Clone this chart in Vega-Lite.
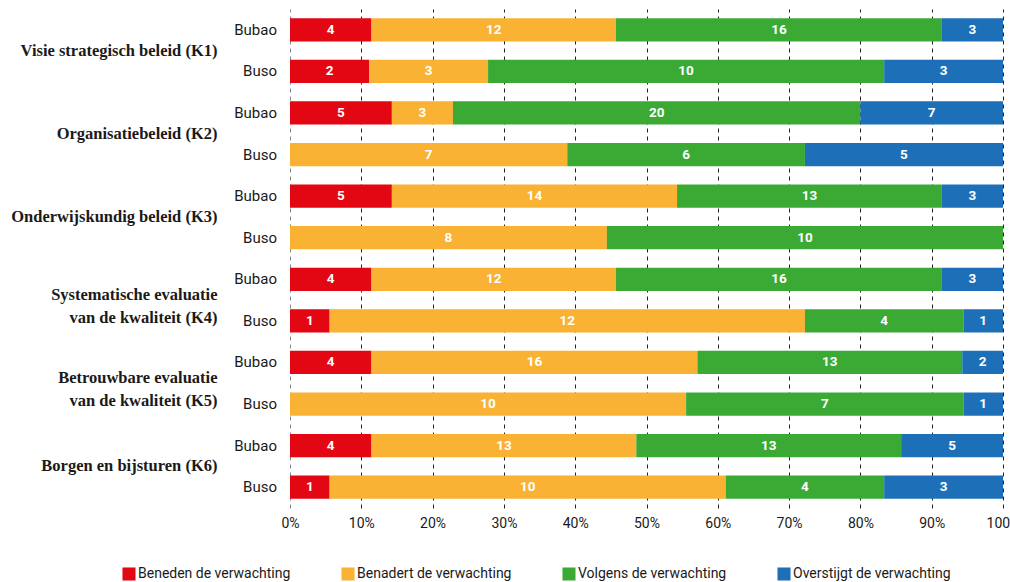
{
  "$schema": "https://vega.github.io/schema/vega-lite/v6.json",
  "autosize": {"type": "none"},
  "width": 713,
  "height": 499,
  "padding": {"left": 290, "top": 9, "right": 7, "bottom": 74},
  "background": "white",
  "config": {
    "view": {"stroke": null},
    "font": "Roboto"
  },
  "datasets": {
    "counts": [
      {"cat": "Visie strategisch beleid (K1)", "group": "Bubao", "level": "Beneden de verwachting", "k": 1, "n": 4},
      {"cat": "Visie strategisch beleid (K1)", "group": "Bubao", "level": "Benadert de verwachting", "k": 2, "n": 12},
      {"cat": "Visie strategisch beleid (K1)", "group": "Bubao", "level": "Volgens de verwachting", "k": 3, "n": 16},
      {"cat": "Visie strategisch beleid (K1)", "group": "Bubao", "level": "Overstijgt de verwachting", "k": 4, "n": 3},
      {"cat": "Visie strategisch beleid (K1)", "group": "Buso", "level": "Beneden de verwachting", "k": 1, "n": 2},
      {"cat": "Visie strategisch beleid (K1)", "group": "Buso", "level": "Benadert de verwachting", "k": 2, "n": 3},
      {"cat": "Visie strategisch beleid (K1)", "group": "Buso", "level": "Volgens de verwachting", "k": 3, "n": 10},
      {"cat": "Visie strategisch beleid (K1)", "group": "Buso", "level": "Overstijgt de verwachting", "k": 4, "n": 3},
      {"cat": "Organisatiebeleid (K2)", "group": "Bubao", "level": "Beneden de verwachting", "k": 1, "n": 5},
      {"cat": "Organisatiebeleid (K2)", "group": "Bubao", "level": "Benadert de verwachting", "k": 2, "n": 3},
      {"cat": "Organisatiebeleid (K2)", "group": "Bubao", "level": "Volgens de verwachting", "k": 3, "n": 20},
      {"cat": "Organisatiebeleid (K2)", "group": "Bubao", "level": "Overstijgt de verwachting", "k": 4, "n": 7},
      {"cat": "Organisatiebeleid (K2)", "group": "Buso", "level": "Benadert de verwachting", "k": 2, "n": 7},
      {"cat": "Organisatiebeleid (K2)", "group": "Buso", "level": "Volgens de verwachting", "k": 3, "n": 6},
      {"cat": "Organisatiebeleid (K2)", "group": "Buso", "level": "Overstijgt de verwachting", "k": 4, "n": 5},
      {"cat": "Onderwijskundig beleid (K3)", "group": "Bubao", "level": "Beneden de verwachting", "k": 1, "n": 5},
      {"cat": "Onderwijskundig beleid (K3)", "group": "Bubao", "level": "Benadert de verwachting", "k": 2, "n": 14},
      {"cat": "Onderwijskundig beleid (K3)", "group": "Bubao", "level": "Volgens de verwachting", "k": 3, "n": 13},
      {"cat": "Onderwijskundig beleid (K3)", "group": "Bubao", "level": "Overstijgt de verwachting", "k": 4, "n": 3},
      {"cat": "Onderwijskundig beleid (K3)", "group": "Buso", "level": "Benadert de verwachting", "k": 2, "n": 8},
      {"cat": "Onderwijskundig beleid (K3)", "group": "Buso", "level": "Volgens de verwachting", "k": 3, "n": 10},
      {"cat": "Systematische evaluatie|van de kwaliteit (K4)", "group": "Bubao", "level": "Beneden de verwachting", "k": 1, "n": 4},
      {"cat": "Systematische evaluatie|van de kwaliteit (K4)", "group": "Bubao", "level": "Benadert de verwachting", "k": 2, "n": 12},
      {"cat": "Systematische evaluatie|van de kwaliteit (K4)", "group": "Bubao", "level": "Volgens de verwachting", "k": 3, "n": 16},
      {"cat": "Systematische evaluatie|van de kwaliteit (K4)", "group": "Bubao", "level": "Overstijgt de verwachting", "k": 4, "n": 3},
      {"cat": "Systematische evaluatie|van de kwaliteit (K4)", "group": "Buso", "level": "Beneden de verwachting", "k": 1, "n": 1},
      {"cat": "Systematische evaluatie|van de kwaliteit (K4)", "group": "Buso", "level": "Benadert de verwachting", "k": 2, "n": 12},
      {"cat": "Systematische evaluatie|van de kwaliteit (K4)", "group": "Buso", "level": "Volgens de verwachting", "k": 3, "n": 4},
      {"cat": "Systematische evaluatie|van de kwaliteit (K4)", "group": "Buso", "level": "Overstijgt de verwachting", "k": 4, "n": 1},
      {"cat": "Betrouwbare evaluatie|van de kwaliteit (K5)", "group": "Bubao", "level": "Beneden de verwachting", "k": 1, "n": 4},
      {"cat": "Betrouwbare evaluatie|van de kwaliteit (K5)", "group": "Bubao", "level": "Benadert de verwachting", "k": 2, "n": 16},
      {"cat": "Betrouwbare evaluatie|van de kwaliteit (K5)", "group": "Bubao", "level": "Volgens de verwachting", "k": 3, "n": 13},
      {"cat": "Betrouwbare evaluatie|van de kwaliteit (K5)", "group": "Bubao", "level": "Overstijgt de verwachting", "k": 4, "n": 2},
      {"cat": "Betrouwbare evaluatie|van de kwaliteit (K5)", "group": "Buso", "level": "Benadert de verwachting", "k": 2, "n": 10},
      {"cat": "Betrouwbare evaluatie|van de kwaliteit (K5)", "group": "Buso", "level": "Volgens de verwachting", "k": 3, "n": 7},
      {"cat": "Betrouwbare evaluatie|van de kwaliteit (K5)", "group": "Buso", "level": "Overstijgt de verwachting", "k": 4, "n": 1},
      {"cat": "Borgen en bijsturen (K6)", "group": "Bubao", "level": "Beneden de verwachting", "k": 1, "n": 4},
      {"cat": "Borgen en bijsturen (K6)", "group": "Bubao", "level": "Benadert de verwachting", "k": 2, "n": 13},
      {"cat": "Borgen en bijsturen (K6)", "group": "Bubao", "level": "Volgens de verwachting", "k": 3, "n": 13},
      {"cat": "Borgen en bijsturen (K6)", "group": "Bubao", "level": "Overstijgt de verwachting", "k": 4, "n": 5},
      {"cat": "Borgen en bijsturen (K6)", "group": "Buso", "level": "Beneden de verwachting", "k": 1, "n": 1},
      {"cat": "Borgen en bijsturen (K6)", "group": "Buso", "level": "Benadert de verwachting", "k": 2, "n": 10},
      {"cat": "Borgen en bijsturen (K6)", "group": "Buso", "level": "Volgens de verwachting", "k": 3, "n": 4},
      {"cat": "Borgen en bijsturen (K6)", "group": "Buso", "level": "Overstijgt de verwachting", "k": 4, "n": 3}
    ],
    "groups": [
      {"cat": "Visie strategisch beleid (K1)", "group": "Bubao"},
      {"cat": "Visie strategisch beleid (K1)", "group": "Buso"},
      {"cat": "Organisatiebeleid (K2)", "group": "Bubao"},
      {"cat": "Organisatiebeleid (K2)", "group": "Buso"},
      {"cat": "Onderwijskundig beleid (K3)", "group": "Bubao"},
      {"cat": "Onderwijskundig beleid (K3)", "group": "Buso"},
      {"cat": "Systematische evaluatie|van de kwaliteit (K4)", "group": "Bubao"},
      {"cat": "Systematische evaluatie|van de kwaliteit (K4)", "group": "Buso"},
      {"cat": "Betrouwbare evaluatie|van de kwaliteit (K5)", "group": "Bubao"},
      {"cat": "Betrouwbare evaluatie|van de kwaliteit (K5)", "group": "Buso"},
      {"cat": "Borgen en bijsturen (K6)", "group": "Bubao"},
      {"cat": "Borgen en bijsturen (K6)", "group": "Buso"}
    ]
  },
  "encoding": {
    "y": {
      "field": "cat",
      "type": "nominal",
      "sort": ["Visie strategisch beleid (K1)", "Organisatiebeleid (K2)", "Onderwijskundig beleid (K3)", "Systematische evaluatie|van de kwaliteit (K4)", "Betrouwbare evaluatie|van de kwaliteit (K5)", "Borgen en bijsturen (K6)"],
      "scale": {"paddingInner": 0, "paddingOuter": 0},
      "axis": {
        "title": null,
        "ticks": false,
        "domain": false,
        "labelExpr": "split(datum.label, '|')",
        "labelFont": "Liberation Serif",
        "labelFontWeight": "bold",
        "labelFontSize": 16.5,
        "labelColor": "#1a1a1a",
        "labelPadding": 73,
        "labelLineHeight": 23,
        "labelLimit": 400,
        "labelBaseline": {"condition": {"test": "indexof(datum.value, '|') >= 0", "value": "alphabetic"}, "value": "middle"}
      }
    },
    "yOffset": {
      "field": "group",
      "type": "nominal",
      "sort": ["Bubao", "Buso"],
      "scale": {"paddingInner": 0.44, "paddingOuter": 0.22}
    }
  },
  "layer": [
    {
      "data": {"name": "counts"},
      "mark": {"type": "bar"},
      "encoding": {
        "x": {
          "field": "n",
          "type": "quantitative",
          "stack": "normalize",
          "scale": {"domain": [0, 1]},
          "axis": {
            "title": null,
            "format": "%",
            "values": [0, 0.1, 0.2, 0.3, 0.4, 0.5, 0.6, 0.7, 0.8, 0.9, 1],
            "domain": false,
            "ticks": false,
            "grid": true,
            "gridDash": [4, 4],
            "gridColor": {"condition": {"test": "datum.value === 0", "value": "#888888"}, "value": "#222222"},
            "gridWidth": 1,
            "labelFontSize": 14,
            "labelColor": "#1a1a1a",
            "labelPadding": 8,
            "labelFlush": false
          }
        },
        "color": {
          "field": "level",
          "type": "nominal",
          "scale": {
            "domain": ["Beneden de verwachting", "Benadert de verwachting", "Volgens de verwachting", "Overstijgt de verwachting"],
            "range": ["#E30613", "#F9B233", "#3AAA35", "#1D70B7"]
          },
          "legend": {
            "title": null,
            "orient": "none",
            "direction": "horizontal",
            "legendX": -168,
            "legendY": 558,
            "symbolType": "square",
            "symbolSize": 170,
            "symbolStrokeWidth": 0,
            "labelFontSize": 14,
            "labelColor": "#1a1a1a",
            "labelOffset": 2,
            "columnPadding": 50,
            "labelLimit": 300
          }
        },
        "order": {"field": "k", "type": "quantitative"}
      }
    },
    {
      "data": {"name": "counts"},
      "mark": {"type": "text", "color": "white", "fontWeight": "bold", "fontSize": 13.5, "baseline": "middle", "align": "center"},
      "encoding": {
        "x": {"field": "n", "type": "quantitative", "stack": "normalize", "bandPosition": 0.5},
        "detail": {"field": "level", "type": "nominal"},
        "order": {"field": "k", "type": "quantitative"},
        "text": {"field": "n", "type": "quantitative"}
      }
    },
    {
      "data": {"name": "groups"},
      "mark": {"type": "text", "align": "right", "baseline": "middle", "dx": -13, "fontSize": 15, "color": "#1a1a1a"},
      "encoding": {
        "x": {"datum": 0, "type": "quantitative"},
        "text": {"field": "group", "type": "nominal"}
      }
    }
  ]
}
